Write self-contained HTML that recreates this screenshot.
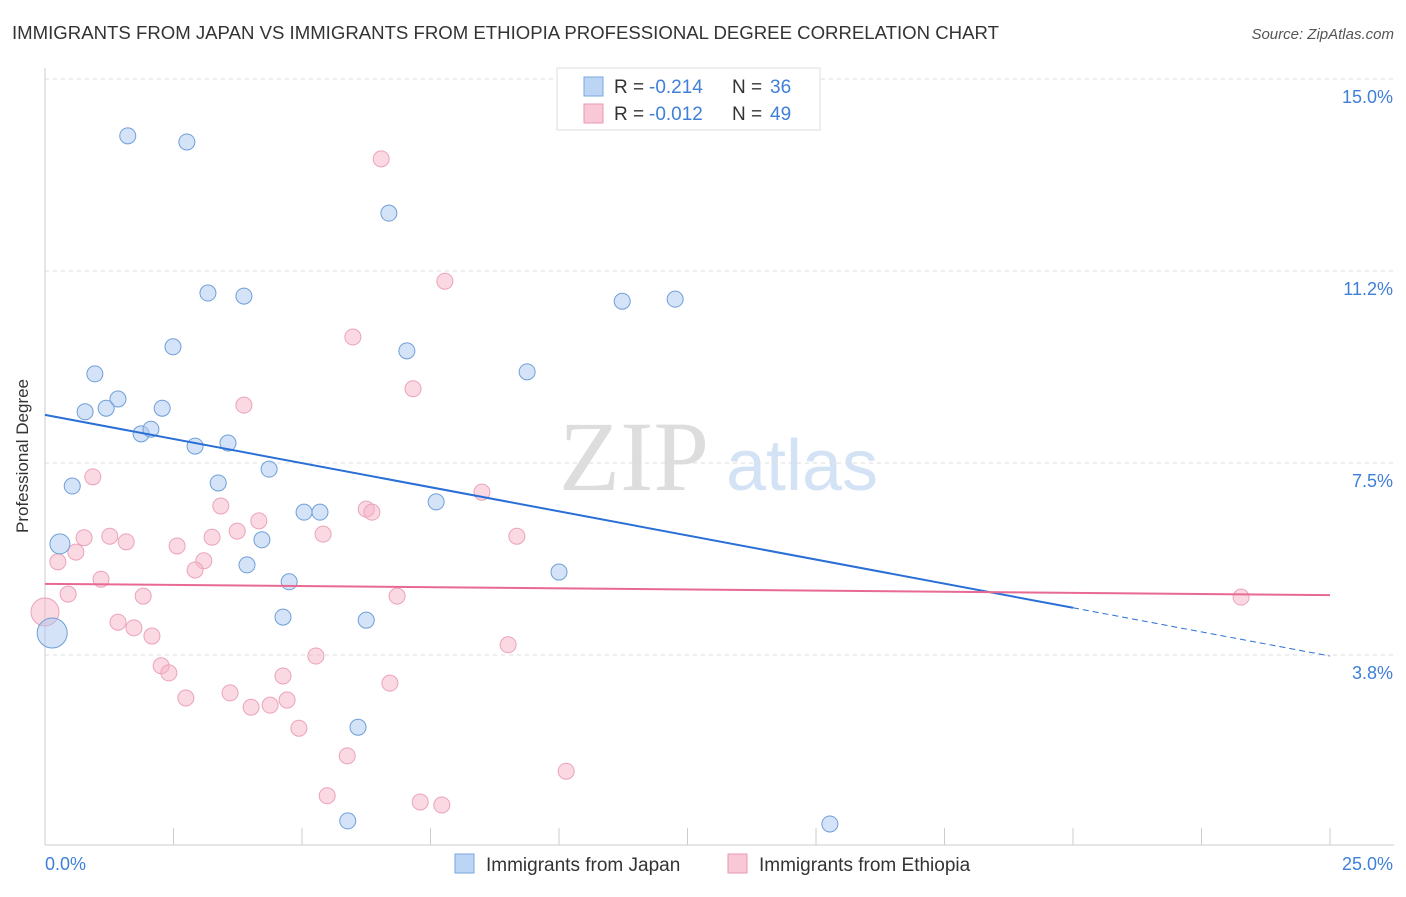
<!DOCTYPE html>
<html><head><meta charset="utf-8"><style>
body{margin:0;background:#fff;font-family:"Liberation Sans",sans-serif;}
</style></head><body>
<svg id="chart" width="1406" height="892" font-family="Liberation Sans, sans-serif">
<text x="12" y="39" font-size="18.6" fill="#333">IMMIGRANTS FROM JAPAN VS IMMIGRANTS FROM ETHIOPIA PROFESSIONAL DEGREE CORRELATION CHART</text>
<text x="1394" y="39" font-size="15" fill="#555" font-style="italic" text-anchor="end">Source: ZipAtlas.com</text>
<text x="28" y="456" font-size="17" fill="#333" text-anchor="middle" transform="rotate(-90 28 456)">Professional Degree</text>
<g><text x="634" y="490" font-size="100" fill="#ddd" style="font-family:'Liberation Serif',serif" text-anchor="middle">ZIP</text><text x="802" y="490" font-size="72" fill="#d3e3f5" text-anchor="middle">atlas</text></g>
<g id="grid"></g><g id="ticks"></g><g id="pts"></g><g id="lines"></g>
<g>
<rect x="557" y="68" width="263" height="62" fill="#fff" stroke="#ddd"/>
<rect x="584" y="77" width="19" height="19" fill="#bcd5f5" stroke="#7aa7e0"/>
<text x="614" y="93" font-size="19" fill="#333">R =</text><text x="649" y="93" font-size="19" fill="#3f7fd8">-0.214</text>
<text x="732" y="93" font-size="19" fill="#333">N =</text><text x="770" y="93" font-size="19" fill="#3f7fd8">36</text>
<rect x="584" y="104" width="19" height="19" fill="#f8c8d6" stroke="#e99ab3"/>
<text x="614" y="120" font-size="19" fill="#333">R =</text><text x="649" y="120" font-size="19" fill="#3f7fd8">-0.012</text>
<text x="732" y="120" font-size="19" fill="#333">N =</text><text x="770" y="120" font-size="19" fill="#3f7fd8">49</text>
</g>
<g>
<rect x="455" y="854" width="19" height="19" fill="#bcd5f5" stroke="#7aa7e0"/>
<text x="486" y="871" font-size="19" fill="#333">Immigrants from Japan</text>
<rect x="728" y="854" width="19" height="19" fill="#f8c8d6" stroke="#e99ab3"/>
<text x="759" y="871" font-size="19" fill="#333">Immigrants from Ethiopia</text>
</g>
</svg>
<script>
const yTicks=[15.0,11.2,7.5,3.8];
const yTickVals=[15,11.25,7.5,3.75];
const xTickLabels=["0.0%","25.0%"];
const japanX=[1.61,2.76,6.69,3.17,3.87,11.23,12.26,2.49,7.04,0.97,9.38,1.42,0.78,1.19,2.28,1.87,2.06,2.92,3.56,0.53,3.37,4.36,7.61,5.04,5.35,4.22,0.29,3.93,4.75,10.00,4.63,6.25,0.14,6.09,5.89,15.27];
const japanY=[13.89,13.77,12.38,10.82,10.76,10.66,10.70,9.77,9.69,9.24,9.28,8.75,8.50,8.57,8.57,8.07,8.16,7.83,7.89,7.05,7.11,7.38,6.74,6.54,6.54,6.00,5.92,5.51,5.18,5.37,4.49,4.43,4.18,2.34,0.51,0.45];
const japanR=[8,8,8,8,8,8,8,8,8,8,8,8,8,8,8,8,8,8,8,8,8,8,8,8,8,8,10,8,8,8,8,8,15,8,8,8];
const ethX=[6.54,7.78,5.99,3.87,7.16,0.93,8.50,3.42,6.25,6.36,4.16,0.76,1.26,3.74,3.25,1.58,5.41,9.18,2.57,3.09,2.92,0.25,0.60,1.09,0.45,1.91,6.85,0.0,1.42,1.73,2.08,9.01,5.27,2.26,2.41,4.63,6.71,3.60,2.74,4.71,4.01,4.38,4.94,5.88,10.14,5.49,7.30,7.72,23.27];
const ethY=[13.44,11.05,9.96,8.63,8.95,7.23,6.93,6.66,6.60,6.54,6.37,6.04,6.07,6.17,6.05,5.96,6.11,6.07,5.88,5.59,5.41,5.57,5.76,5.23,4.94,4.90,4.90,4.59,4.39,4.28,4.12,3.95,3.73,3.54,3.40,3.34,3.20,3.01,2.91,2.87,2.73,2.77,2.32,1.78,1.48,1.00,0.88,0.82,4.88];
const japanTrend=[8.44,3.73];
const ethTrend=[5.14,4.92];
const NS="http://www.w3.org/2000/svg";
const X=v=>45+v/25*1285, Y=v=>79+(15-v)*51.2;
function mk(tag,attrs,parent){const e=document.createElementNS(NS,tag);for(const k in attrs)e.setAttribute(k,attrs[k]);document.getElementById(parent).appendChild(e);return e;}
mk('line',{x1:45,y1:68,x2:45,y2:845,stroke:'#ccc'},'grid');
mk('line',{x1:45,y1:845,x2:1394,y2:845,stroke:'#ccc'},'grid');
yTickVals.forEach((v,i)=>{
 const l=mk('line',{x1:45,y1:Y(v),x2:1394,y2:Y(v),stroke:'#ddd','stroke-dasharray':'4,4'},'grid');
 
 
 const t=mk('text',{x:1393,y:Y(v)+24,'font-size':18,fill:'#3f7fd8','text-anchor':'end'},'ticks');
 t.textContent=yTicks[i].toFixed(1)+'%';
 
 
});
for(let i=1;i<=10;i++){const xv=i*2.5;const l=mk('line',{x1:X(xv),y1:828,x2:X(xv),y2:845,stroke:'#ccc'},'ticks');
 
 }
const t0=mk('text',{x:45,y:870,'font-size':18,fill:'#3f7fd8'},'ticks');t0.textContent=xTickLabels[0];


const t1=mk('text',{x:1393,y:870,'font-size':18,fill:'#3f7fd8','text-anchor':'end'},'ticks');t1.textContent=xTickLabels[1];


ethX.forEach((v,i)=>{const c=mk('circle',{cx:X(v),cy:Y(ethY[i]),r:i==27?14:8,fill:'rgba(246,180,200,0.5)',stroke:'#eba3bb','stroke-width':1},'pts');
 
 });
japanX.forEach((v,i)=>{const c=mk('circle',{cx:X(v),cy:Y(japanY[i]),r:japanR[i],fill:'rgba(170,200,240,0.5)',stroke:'#6f9fd8','stroke-width':1},'pts');
 
 });
const jy=x=>japanTrend[0]+(japanTrend[1]-japanTrend[0])*x/25;
const a=mk('line',{x1:X(0),y1:Y(jy(0)),x2:X(20),y2:Y(jy(20)),stroke:'#2a6fd6','stroke-width':2},'lines');


const b=mk('line',{x1:X(20),y1:Y(jy(20)),x2:X(25),y2:Y(jy(25)),stroke:'#2a6fd6','stroke-width':1,'stroke-dasharray':'6,4'},'lines');


const c=mk('line',{x1:X(0),y1:Y(ethTrend[0]),x2:X(25),y2:Y(ethTrend[1]),stroke:'#e86a92','stroke-width':2},'lines');


</script>
</body></html>
